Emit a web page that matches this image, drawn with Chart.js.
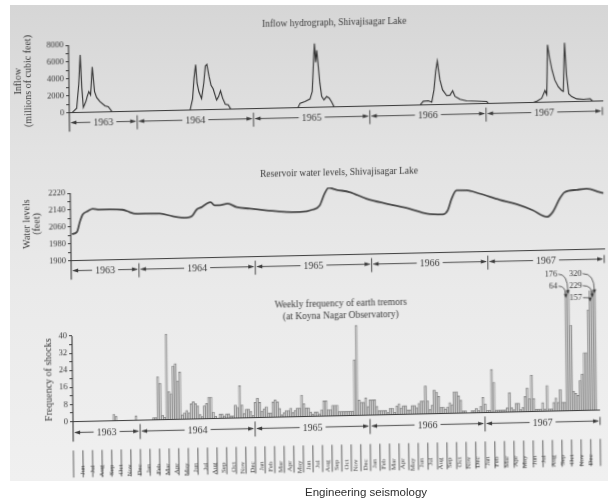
<!DOCTYPE html>
<html>
<head>
<meta charset="utf-8">
<script src="https://cdn.jsdelivr.net/npm/chart.js@4/dist/chart.umd.min.js"></script>
<style>
html, body { margin: 0; padding: 0; background: #fff; }
#wrap { position: relative; width: 608px; height: 503px; overflow: hidden; }
#paper { position: absolute; left: 10px; top: 5px; width: 598px; height: 476px;
  background: linear-gradient(180deg, #d6d6d6 0%, #e2e2e2 30%, #eaeaea 60%, #f0f0f0 100%); }
#page { position: absolute; left: 0; top: 0; width: 608px; height: 503px;
  transform: matrix(1, -0.022, 0.012, 1, 0, 0); transform-origin: 304px 251px; }
#page canvas { position: absolute; left: 0; }
#caption { position: absolute; left: 305px; top: 486px; font: 11.5px "Liberation Sans", Arial, sans-serif; color: #2e2e2e; }
</style>
</head>
<body>
<div id="wrap">
  <div id="paper"></div>
  <div id="page">
    <canvas id="inflow" width="608" height="123" style="top:12px"></canvas>
    <canvas id="level" width="608" height="120" style="top:160px"></canvas>
    <canvas id="tremors" width="608" height="218" style="top:262px"></canvas>
  </div>
  <div id="caption">Engineering seismology</div>
</div>
<script>
// time axis: months counted from 1 June 1963
const yearLabels = ["1963", "1964", "1965", "1966", "1967"];
const yearBounds = [0, 7, 19, 31, 43, 55];
const monthAbbr = ["Jan", "Feb", "Mar", "Apr", "May", "Jun", "Jul", "Aug", "Sep", "Oct", "Nov", "Dec"];
const firstMonth = 5; // June
const monthLabels = [];
for (let i = 0; i < 55; i++) monthLabels.push(monthAbbr[(firstMonth + i) % 12]);

// inflow hydrograph (millions of cubic feet)
const inflowMonth = [
  0, 0.29, 0.77, 1.01, 1.19, 1.32, 1.46, 1.73, 1.87, 2.04, 2.22, 2.42, 2.63, 2.84, 3.18, 3.69, 4.04, 4.42,
  12.47, 12.74, 12.91, 13.09, 13.22, 13.4, 13.67, 13.91, 14.09, 14.25, 14.46, 14.66, 14.87, 15.22, 15.43, 15.63, 15.84, 16.11, 16.42, 16.67,
  23.6, 23.82, 24.33, 24.85, 25.09, 25.26, 25.37, 25.47, 25.6, 25.75, 25.88, 26.06, 26.29, 26.57, 26.84, 27.09, 27.33,
  36.2, 36.54, 37.06, 37.41, 37.65, 37.85, 38.03, 38.27, 38.54, 38.96, 39.3, 39.58, 39.81, 40.33, 41.02, 42.05, 43.09, 43.25,
  47.9, 48.31, 48.76, 49.1, 49.28, 49.41, 49.61, 49.85, 50.13, 50.48, 50.83, 50.99, 51.17, 51.34, 51.55, 51.86, 52.37, 53.06, 53.75, 54.03, 55
];
const inflowValue = [
  0, 0, 530, 3350, 6800, 2900, 600, 1300, 1900, 2460, 2060, 5370, 2460, 1740, 1250, 730, 600, 0,
  0, 1330, 3760, 5370, 3150, 2140, 1330, 3150, 5170, 5370, 3960, 2870, 2460, 1130, 1540, 2220, 1330, 600, 530, 0,
  0, 530, 730, 1010, 1900, 5540, 7560, 5330, 6750, 4730, 2890, 1270, 850, 1250, 1050, 570, 0,
  0, 440, 490, 320, 1740, 3960, 5170, 2950, 1740, 1050, 1090, 1600, 930, 570, 360, 300, 250, 0,
  0, 200, 500, 1400, 900, 6800, 5250, 3800, 2600, 1800, 1350, 1250, 7000, 3150, 930, 600, 320, 240, 300, 0, 0
];

// reservoir water level (feet)
const levelMonth = [
  0.12, 0.64, 0.95, 1.26, 1.78, 2.29, 3.01, 4.05, 5.39, 6.11, 6.63, 7.45, 9.21, 10.55, 11.99, 12.51, 13.02,
  13.54, 14.06, 14.47, 14.88, 15.4, 16.22, 17.15, 18.49, 20.25, 22.31, 23.65, 25.0, 25.72, 26.23, 26.65,
  27.47, 28.81, 30.56, 32.63, 35.0, 36.76, 38.41, 38.93, 39.34, 39.86, 40.89, 42.23, 44.29, 46.04, 47.69,
  49.14, 49.76, 50.48, 51.0, 52.24, 53.27, 54.61, 55
];
const levelValue = [
  2026, 2036, 2083, 2118, 2133, 2144, 2139, 2139, 2136, 2124, 2116, 2115, 2114, 2100, 2092, 2098, 2129,
  2140, 2156, 2163, 2147, 2147, 2154, 2137, 2128, 2118, 2108, 2107, 2117, 2136, 2191, 2218,
  2208, 2196, 2163, 2137, 2111, 2086, 2081, 2100, 2154, 2193, 2192, 2175, 2144, 2121, 2091,
  2058, 2081, 2143, 2173, 2183, 2187, 2170, 2165
];

// weekly number of shocks, from the first week of June 1963
const weeklyShocks = [
  0, 0, 0, 0, 0, 0, 0, 0, 0, 0, 0, 0, 0, 0, 0, 0, 0, 0,
  3, 2, 0, 0, 0, 0, 0, 0, 0, 0, 2, 0, 0, 0, 0, 0, 0, 0, 1, 1,
  20, 17, 2, 1, 40, 13, 12, 25, 26, 18, 22, 2, 3, 4, 3,
  7, 8, 7, 6, 2, 1, 6, 7, 10, 10, 3, 1, 0, 2, 2, 1, 2, 2, 1, 1, 6, 5, 15, 6, 2, 4, 4, 3, 1,
  7, 9, 7, 3, 4, 5, 2, 2, 7, 8, 7, 4, 1, 2, 3, 3, 4, 2, 3, 4, 4, 10, 6, 4, 4,
  2, 1, 2, 2, 1, 3, 7, 7, 3, 3, 5, 5, 5, 2, 2, 2, 2, 2, 2, 2,
  26, 42, 7, 6, 6, 8, 4, 7, 7, 7, 4, 2, 2, 2, 2, 1, 3, 3, 1, 4, 5, 3, 4, 4, 2,
  2, 4, 4, 3, 5, 6, 6, 13, 6, 2, 4, 11, 10, 8, 3, 3, 2, 3, 5, 4, 10, 10, 8, 6,
  1, 1, 0, 0, 1, 1, 2, 1, 3, 7, 4, 1, 1, 20, 14, 1, 1, 1, 1, 1, 2, 9, 2, 1, 4,
  4, 1, 2, 7, 11, 6, 17, 6, 1, 1, 1, 4, 1, 12, 1, 1, 4, 6, 4, 10, 4, 4,
  64, 176, 40, 9, 8, 7, 14, 17, 27, 27, 47, 157, 229, 320
];

const ink = "#3a3a3a";
const serif = '"Liberation Serif", "DejaVu Serif", serif';
Chart.defaults.font.family = serif;
Chart.defaults.color = ink;

const decor = {
  id: "decor",
  afterDraw(chart, args, o) {
    const ctx = chart.ctx;
    const a = chart.chartArea;
    const xs = chart.scales.x;
    const ys = chart.scales.y;
    ctx.save();
    ctx.fillStyle = ink;
    ctx.strokeStyle = ink;
    ctx.textAlign = "center";
    ctx.textBaseline = "middle";
    ctx.font = "9.5px " + serif;
    o.title.forEach((t, k) => ctx.fillText(t, o.titleX, o.titleY + k * 12));
    ctx.font = "10px " + serif;
    o.side.forEach((t, k) => {
      ctx.save();
      ctx.translate(o.sideX[k], o.sideY);
      ctx.rotate(-Math.PI / 2);
      ctx.fillText(t, 0, 0);
      ctx.restore();
    });
    // y axis line, carried down through the year row
    const rowY = a.bottom + o.rowGap;
    ctx.lineWidth = 1.1;
    ctx.beginPath();
    ctx.moveTo(a.left, ys.getPixelForValue(o.axisTop));
    ctx.lineTo(a.left, rowY + 9);
    ctx.stroke();
    // year row
    ctx.font = "10px " + serif;
    ctx.lineWidth = 0.9;
    yearLabels.forEach((y, k) => {
      const x0 = xs.getPixelForValue(yearBounds[k]);
      const x1 = xs.getPixelForValue(yearBounds[k + 1]);
      const cx = (x0 + x1) / 2;
      const w = ctx.measureText(y).width;
      ctx.fillText(y, cx, rowY + 0.5);
      ctx.beginPath();
      ctx.moveTo(x0 + 2, rowY); ctx.lineTo(cx - w / 2 - 3, rowY);
      ctx.moveTo(cx + w / 2 + 3, rowY); ctx.lineTo(x1 - 2, rowY);
      ctx.stroke();
      ctx.beginPath();
      ctx.moveTo(x0 + 1, rowY); ctx.lineTo(x0 + 7, rowY - 2); ctx.lineTo(x0 + 7, rowY + 2); ctx.closePath();
      ctx.moveTo(x1 - 1, rowY); ctx.lineTo(x1 - 7, rowY - 2); ctx.lineTo(x1 - 7, rowY + 2); ctx.closePath();
      ctx.fill();
      if (k > 0) {
        ctx.beginPath();
        ctx.moveTo(x0, a.bottom + 4); ctx.lineTo(x0, rowY + 8);
        ctx.stroke();
      }
    });
    const xe = xs.getPixelForValue(yearBounds[yearBounds.length - 1]);
    ctx.beginPath();
    ctx.moveTo(xe, rowY - 4); ctx.lineTo(xe, rowY + 4);
    ctx.stroke();
    // month boxes
    if (o.months) {
      const x2 = chart.scales.x2;
      ctx.lineWidth = 0.8;
      ctx.beginPath();
      for (let m = 0; m <= monthLabels.length; m++) {
        const px = xs.getPixelForValue(m);
        ctx.moveTo(px, x2.top + 4); ctx.lineTo(px, x2.top + 31);
      }
      ctx.stroke();
    }
    // values running off the top of the scale
    if (o.overflow) {
      const meta = chart.getDatasetMeta(0);
      const groups = [];
      weeklyShocks.forEach((v, i) => {
        if (v <= ys.max) return;
        const last = groups[groups.length - 1];
        if (last && last[last.length - 1].i === i - 1) last.push({ v, i });
        else groups.push([{ v, i }]);
      });
      ctx.font = "8.5px " + serif;
      ctx.textAlign = "right";
      ctx.lineWidth = 0.8;
      groups.forEach((g) => {
        const left = meta.data[g[0].i].x;
        g.slice().sort((p, q) => q.v - p.v).forEach((p, k) => {
          const ly = a.top - 17 + k * 12;
          const lx = left - 8;
          ctx.fillText(String(p.v), lx, ly);
          const bx = meta.data[p.i].x;
          const by = a.top + 3 + k * 4;
          ctx.beginPath();
          ctx.moveTo(lx + 1, ly);
          ctx.quadraticCurveTo(bx, ly, bx, by - 3);
          ctx.stroke();
          ctx.beginPath();
          ctx.moveTo(bx, by); ctx.lineTo(bx - 1.8, by - 4); ctx.lineTo(bx + 1.8, by - 4);
          ctx.fill();
        });
      });
    }
    ctx.restore();
  }
};

function timeAxis(height) {
  return {
    type: "linear", min: 0, max: 55, position: "bottom", weight: 0,
    ticks: { display: false },
    grid: { display: true, drawOnChartArea: false, drawTicks: false },
    border: { display: true, color: ink, width: 1.1 },
    afterFit: (s) => { s.height = height; }
  };
}

function valueAxis(min, max, step, labelEvery, base, top) {
  return {
    min: min, max: max,
    afterBuildTicks: (s) => {
      const t = [];
      for (let v = min; v <= top; v += step) t.push({ value: v });
      s.ticks = t;
    },
    ticks: {
      autoSkip: false, padding: 2, color: ink, font: { size: 8.5 },
      callback: (v) => ((v - base) % labelEvery === 0 ? String(v) : "")
    },
    grid: { drawOnChartArea: false, tickLength: 3, color: ink },
    border: { display: false },
    afterFit: (s) => { s.width = 71; }
  };
}

const common = {
  responsive: false,
  animation: false,
  devicePixelRatio: 1,
  events: []
};

new Chart(document.getElementById("inflow"), {
  type: "line",
  data: {
    datasets: [{
      data: inflowMonth.map((m, i) => ({ x: m, y: inflowValue[i] })),
      borderColor: "#2f2f2f", borderWidth: 1.1, pointRadius: 0, tension: 0
    }]
  },
  options: Object.assign({}, common, {
    layout: { padding: { top: 28, right: 4, bottom: 0, left: 0 } },
    scales: { x: timeAxis(27.4), y: valueAxis(0, 8000, 1000, 2000, 0, 8000) },
    plugins: {
      legend: { display: false }, tooltip: { enabled: false },
      decor: {
        title: ["Inflow hydrograph, Shivajisagar Lake"], titleX: 337, titleY: 11,
        side: ["Inflow", "(millions of cubic feet)"], sideX: [20, 30], sideY: 63,
        rowGap: 10, axisTop: 8000
      }
    }
  }),
  plugins: [decor]
});

new Chart(document.getElementById("level"), {
  type: "line",
  data: {
    datasets: [{
      data: levelMonth.map((m, i) => ({ x: m, y: levelValue[i] })),
      borderColor: "#474747", borderWidth: 1.8, pointRadius: 0, cubicInterpolationMode: "monotone"
    }]
  },
  options: Object.assign({}, common, {
    layout: { padding: { top: 28, right: 4, bottom: 0, left: 0 } },
    scales: { x: timeAxis(24.4), y: valueAxis(1900, 2220, 40, 80, 1900, 2220) },
    plugins: {
      legend: { display: false }, tooltip: { enabled: false },
      decor: {
        title: ["Reservoir water levels, Shivajisagar Lake"], titleX: 340, titleY: 13,
        side: ["Water levels", "(feet)"], sideX: [27, 37], sideY: 58,
        rowGap: 10, axisTop: 2220
      }
    }
  }),
  plugins: [decor]
});

const monthAxis = {
  type: "linear", min: 0, max: 55, position: "bottom", weight: 1,
  afterBuildTicks: (s) => { s.ticks = monthLabels.map((_, i) => ({ value: i + 0.5 })); },
  ticks: {
    autoSkip: false, minRotation: 90, maxRotation: 90, padding: 11, color: "#444",
    font: { size: 7 }, callback: (v, i) => monthLabels[i]
  },
  grid: { display: false },
  border: { display: false },
  afterFit: (s) => { s.height = 38.6; }
};

new Chart(document.getElementById("tremors"), {
  type: "bar",
  data: {
    datasets: [{
      data: weeklyShocks.map((v, i) => ({ x: (i + 0.5) * 12 / 52, y: v })),
      backgroundColor: "#d8d8d8", borderColor: "#808080", borderWidth: 0.9,
      barPercentage: 1, categoryPercentage: 1
    }]
  },
  options: Object.assign({}, common, {
    layout: { padding: { top: 34.8, right: 4, bottom: 0, left: 0 } },
    scales: {
      x: Object.assign(timeAxis(25), { offset: false }),
      x2: monthAxis,
      y: valueAxis(0, 56, 4, 8, 0, 40)
    },
    plugins: {
      legend: { display: false }, tooltip: { enabled: false },
      decor: {
        title: ["Weekly frequency of earth tremors", "(at Koyna Nagar Observatory)"], titleX: 340, titleY: 42,
        side: ["Frequency of shocks"], sideX: [47], sideY: 112,
        rowGap: 11, axisTop: 40, months: true, overflow: true
      }
    }
  }),
  plugins: [decor]
});
</script>
</body>
</html>
